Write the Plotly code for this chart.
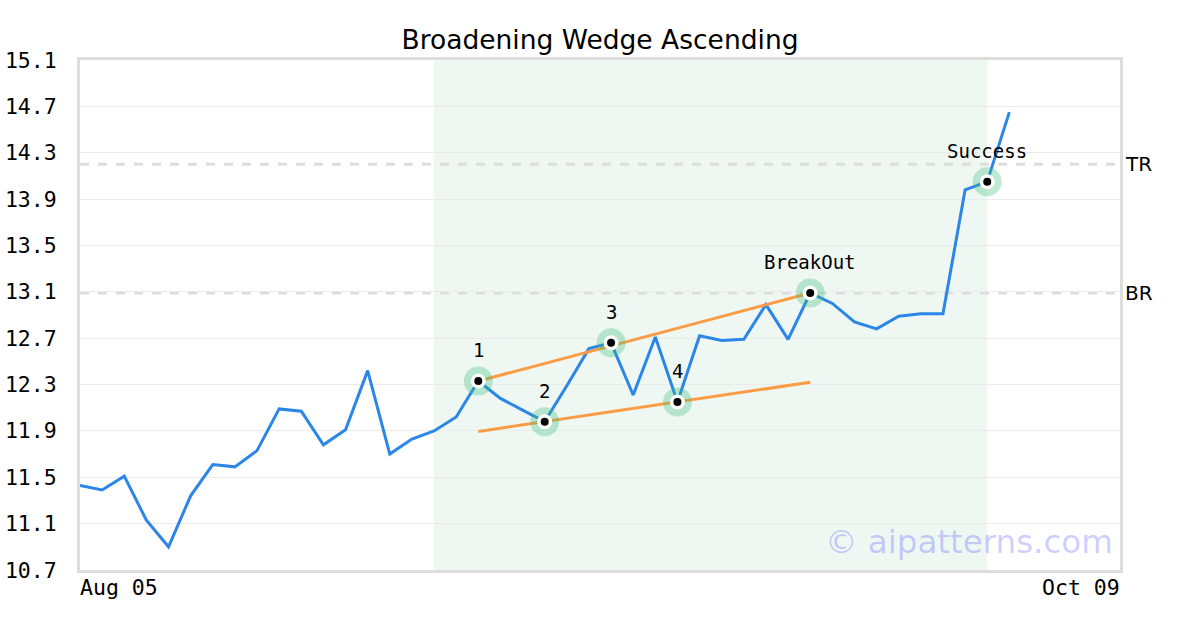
import plotly.graph_objects as go

# ---- data ----
first_label = "Aug 05"
last_label = "Oct 09"
n_axis = 47  # trading-day slots on the axis (index 0 .. 47)

price = [11.43, 11.39, 11.51, 11.13, 10.90, 11.34, 11.61, 11.59, 11.73, 12.09,
         12.07, 11.78, 11.91, 12.42, 11.70, 11.83, 11.90, 12.02, 12.33, 12.18,
         12.08, 11.98, 12.29, 12.61, 12.66, 12.21, 12.71, 12.15, 12.72, 12.68,
         12.69, 12.99, 12.69, 13.09, 13.00, 12.84, 12.78, 12.89, 12.91, 12.91,
         13.98, 14.05, 14.65]

point_idx = [18, 21, 24, 27, 33, 41]
point_labels = ["1", "2", "3", "4", "BreakOut", "Success"]

upper_x = [18, 33]
upper_y = [12.33, 13.09]
lower_x = [18, 33]
lower_y = [11.895, 12.32]

shade_start, shade_end = 16, 41
tr_level = 14.20
br_level = 13.09

yticks = [10.7, 11.1, 11.5, 11.9, 12.3, 12.7, 13.1, 13.5, 13.9, 14.3, 14.7, 15.1]

# ---- figure ----
xs = list(range(len(price)))
px_ = point_idx
py_ = [price[i] for i in point_idx]

fig = go.Figure()

fig.add_trace(go.Scatter(x=xs, y=price, mode="lines",
                         line=dict(color="#2b86e8", width=3), hoverinfo="skip"))
fig.add_trace(go.Scatter(x=upper_x, y=upper_y, mode="lines",
                         line=dict(color="#fb9c45", width=3), hoverinfo="skip"))
fig.add_trace(go.Scatter(x=lower_x, y=lower_y, mode="lines",
                         line=dict(color="#fb9c45", width=3), hoverinfo="skip"))
fig.add_trace(go.Scatter(x=px_, y=py_, mode="markers",
                         marker=dict(size=29, color="rgba(60,190,120,0.33)", line=dict(width=0)),
                         hoverinfo="skip"))
fig.add_trace(go.Scatter(x=px_, y=py_, mode="markers",
                         marker=dict(size=15, color="white", line=dict(width=0)),
                         hoverinfo="skip"))
fig.add_trace(go.Scatter(x=px_, y=py_, mode="markers",
                         marker=dict(size=8, color="black", line=dict(width=0)),
                         hoverinfo="skip"))

# shaded pattern region
fig.add_shape(type="rect", xref="x", yref="paper", x0=shade_start, x1=shade_end,
              y0=0, y1=1, fillcolor="#eff7f3", line=dict(width=0), layer="below")

# TR / BR dashed lines
for lvl, name in [(tr_level, "TR"), (br_level, "BR")]:
    fig.add_shape(type="line", xref="paper", yref="y", x0=0, x1=1, y0=lvl, y1=lvl,
                  line=dict(color="#dddddd", width=3, dash="dash"), layer="below")
    fig.add_annotation(xref="paper", yref="y", x=1, y=lvl, text=name, showarrow=False,
                       xanchor="left", yanchor="middle", xshift=3,
                       font=dict(family="DejaVu Sans", size=20, color="black"))

# point labels
for i, lab in zip(point_idx, point_labels):
    fig.add_annotation(x=i, y=price[i], text=lab, showarrow=False, yshift=31,
                       xanchor="center", yanchor="middle",
                       font=dict(family="DejaVu Sans Mono", size=19, color="black"))

# x-axis end labels
fig.add_annotation(xref="x", yref="paper", x=0, y=0, text=first_label, showarrow=False,
                   xanchor="left", yanchor="top", yshift=-3, xshift=-2,
                   font=dict(family="DejaVu Sans Mono", size=21.5, color="black"))
fig.add_annotation(xref="x", yref="paper", x=n_axis, y=0, text=last_label, showarrow=False,
                   xanchor="right", yanchor="top", yshift=-3, xshift=2,
                   font=dict(family="DejaVu Sans Mono", size=21.5, color="black"))

# watermark
fig.add_annotation(xref="paper", yref="paper", x=0.855, y=0.055, text="© aipatterns.com",
                   showarrow=False, xanchor="center", yanchor="middle",
                   font=dict(family="DejaVu Sans", size=32.5, color="rgba(0,0,255,0.2)"))

fig.update_layout(
    width=1200, height=630,
    margin=dict(l=80, r=80, t=60, b=60, autoexpand=False),
    paper_bgcolor="white", plot_bgcolor="white",
    showlegend=False,
    title=dict(text="Broadening Wedge Ascending", x=0.5, xanchor="center",
               y=1 - 40 / 630, yanchor="middle", yref="container",
               font=dict(family="DejaVu Sans", size=26.5, color="black")),
)
fig.update_xaxes(range=[0, n_axis], showgrid=False, zeroline=False, automargin=False,
                 showticklabels=False, ticks="",
                 showline=True, mirror=True, linecolor="#dddddd", linewidth=3)
fig.update_yaxes(range=[10.7, 15.1], tickvals=yticks, ticktext=[f"{v:.1f}" for v in yticks],
                 showgrid=True, gridcolor="#ebebeb", gridwidth=1, zeroline=False,
                 automargin=False, ticks="", ticklabelstandoff=16,
                 tickfont=dict(family="DejaVu Sans Mono", size=21.5, color="black"),
                 showline=True, mirror=True, linecolor="#dddddd", linewidth=3)

# remove the default page margin so the figure sits at the window's top-left corner
fig.write_html("out.html", config={"displayModeBar": False},
               post_script="document.body.style.margin='0';")
